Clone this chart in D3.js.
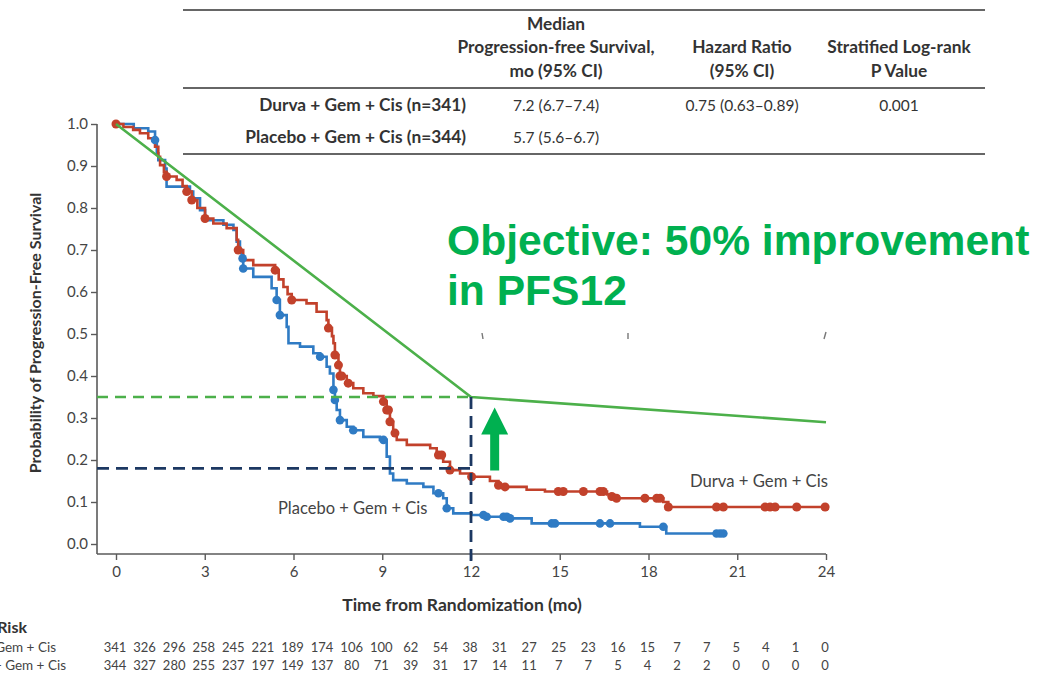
<!DOCTYPE html>
<html><head><meta charset="utf-8">
<script src="https://cdn.jsdelivr.net/npm/d3@7"></script>
<style>
html,body{margin:0;padding:0;background:#fff;}
svg{display:block;}
text{font-family:Lato,"Open Sans",sans-serif;}
</style></head>
<body>
<svg id="chart" width="1058" height="676"></svg>
<script>
// ---------------- data ----------------
const xTicks = [0, 3, 6, 9, 12, 15, 18, 21, 24];
const yTicks = [0.0, 0.1, 0.2, 0.3, 0.4, 0.5, 0.6, 0.7, 0.8, 0.9, 1.0];

// Durva + Gem + Cis (step changes)
const durvaT = [0,0.25,0.58,0.81,1.09,1.32,1.43,1.49,1.62,1.71,2.05,2.25,2.39,2.56,2.75,3.01,3.29,3.74,4.08,4.13,4.30,4.64,5.38,5.50,5.66,5.80,5.94,6.44,6.78,7.12,7.18,7.30,7.35,7.40,7.52,7.57,7.80,8.02,8.36,8.70,9.04,9.15,9.26,9.37,9.49,9.83,10.62,10.84,11.06,11.29,11.63,12.02,12.64,12.93,13.15,13.88,14.50,16.60,16.76,16.92,18.50,18.67,23.97];
const durvaS = [1.0,0.993,0.986,0.978,0.966,0.946,0.922,0.902,0.886,0.875,0.867,0.852,0.839,0.819,0.800,0.775,0.763,0.752,0.724,0.700,0.676,0.664,0.652,0.630,0.612,0.595,0.581,0.573,0.553,0.533,0.514,0.495,0.478,0.450,0.426,0.400,0.383,0.371,0.359,0.352,0.339,0.319,0.291,0.264,0.248,0.236,0.228,0.212,0.196,0.176,0.168,0.160,0.150,0.140,0.136,0.129,0.125,0.118,0.113,0.109,0.100,0.088,0.088];
const durvaCensor = [0,1.71,2.39,2.56,3.01,4.13,5.38,5.94,7.18,7.40,7.52,7.57,7.63,7.85,9.04,9.15,9.21,9.26,9.43,10.90,11.01,11.29,12.02,12.93,13.15,14.95,15.12,15.80,16.36,16.47,16.76,16.92,17.88,18.28,18.39,18.67,20.30,20.53,21.94,22.11,22.28,23.01,23.97];

// Placebo + Gem + Cis (step changes)
const placeboT = [0,0.6,1.09,1.32,1.38,1.43,1.66,1.71,2.50,2.61,2.84,3.01,3.63,3.97,4.08,4.19,4.25,4.30,4.64,5.26,5.43,5.54,5.77,5.83,6.22,6.67,6.90,7.12,7.23,7.35,7.40,7.46,7.57,7.80,8.02,8.36,8.92,9.15,9.26,9.37,9.83,10.39,10.73,11.06,11.18,11.40,12.02,12.53,13.32,14.05,17.71,18.60,20.53];
const placeboS = [1.0,0.990,0.982,0.962,0.930,0.914,0.894,0.851,0.839,0.823,0.795,0.771,0.760,0.748,0.720,0.700,0.680,0.656,0.636,0.609,0.581,0.545,0.517,0.478,0.470,0.454,0.446,0.422,0.406,0.367,0.343,0.319,0.295,0.279,0.271,0.255,0.248,0.208,0.168,0.152,0.144,0.136,0.121,0.109,0.085,0.073,0.069,0.065,0.061,0.049,0.041,0.025,0.025];
const placeboCensor = [1.32,4.28,4.30,5.43,5.54,6.90,7.35,7.40,7.57,8.02,9.04,10.90,11.18,12.42,12.53,13.10,13.21,13.32,14.73,14.84,16.36,16.70,18.50,20.30,20.42,20.53];

// target design line and reference levels
const targetT = [0, 12, 24];
const targetS = [1.0, 0.35, 0.29];
const landmarkT = 12;
const targetPFS12 = 0.35;
const controlPFS12 = 0.18;
const arrowT = 12.8;
const arrowFromS = 0.175;
const arrowToS = 0.325;

// number at risk
const riskTimes = [0,1,2,3,4,5,6,7,8,9,10,11,12,13,14,15,16,17,18,19,20,21,22,23,24];
const riskDurva = [341,326,296,258,245,221,189,174,106,100,62,54,38,31,27,25,23,16,15,7,7,5,4,1,0];
const riskPlacebo = [344,327,280,255,237,197,149,137,80,71,39,31,17,14,11,7,7,5,4,2,2,0,0,0,0];

// summary table
const tableHeaders = [["Median","Progression-free Survival,","mo (95% CI)"],["Hazard Ratio","(95% CI)"],["Stratified Log-rank","P Value"]];
const tableRowLabels = ["Durva + Gem + Cis (n=341)","Placebo + Gem + Cis (n=344)"];
const tableMedians = ["7.2 (6.7\u20137.4)","5.7 (5.6\u20136.7)"];
const tableHR = ["0.75 (0.63\u20130.89)",""];
const tableP = ["0.001",""];

// ---------------- drawing ----------------
const svg = d3.select("#chart");
const RED = "#c2412b", BLUE = "#2f7bc4", GREEN_LINE = "#4cb04a", GREEN = "#00b050", NAVY = "#1c3862";
const AX = "#5a5a5a", TXT = "#333";

const x = d3.scaleLinear().domain([0, 24]).range([116, 826]);
const y = d3.scaleLinear().domain([0, 1]).range([544, 124]);
const axisX0 = 97, axisY0 = 554;

// Axes
const gy = svg.append("g").attr("transform", `translate(${axisX0},0)`)
  .call(d3.axisLeft(y).tickValues(yTicks).tickFormat(d3.format(".1f")).tickSizeOuter(0).tickSize(6).tickPadding(3));
gy.select(".domain").attr("d", `M0,${y(1)}V${axisY0}`);
const gx = svg.append("g").attr("transform", `translate(0,${axisY0})`)
  .call(d3.axisBottom(x).tickValues(xTicks).tickSizeOuter(0).tickSize(6).tickPadding(6));
gx.select(".domain").attr("d", `M${axisX0},0H${x(24)}`);
[gx, gy].forEach(g => {
  g.selectAll(".domain").attr("stroke", AX).attr("stroke-width", 1.6);
  g.selectAll(".tick line").attr("stroke", AX).attr("stroke-width", 1.4);
  g.selectAll(".tick text").attr("fill", "#444").style("font-size", "15px").style("font-family", "Lato, sans-serif");
});

// axis titles
svg.append("text").attr("transform", `translate(41,${(y(1)+axisY0)/2 - 6}) rotate(-90)`)
  .attr("text-anchor", "middle").attr("fill", TXT).style("font-weight", 700).style("font-size", "16px")
  .text("Probability of Progression-Free Survival");
svg.append("text").attr("x", 462).attr("y", 611).attr("text-anchor", "middle").attr("fill", TXT)
  .style("font-weight", 700).style("font-size", "17.5px").text("Time from Randomization (mo)");

// KM curves
const step = d3.line().x(d => x(d[0])).y(d => y(d[1])).curve(d3.curveStepAfter);
const durva = durvaT.map((t, i) => [t, durvaS[i]]);
const placebo = placeboT.map((t, i) => [t, placeboS[i]]);
function survAt(T, S, t) { let s = S[0]; for (let i = 0; i < T.length; i++) { if (T[i] <= t) s = S[i]; } return s; }

svg.append("path").attr("d", step(placebo)).attr("fill", "none").attr("stroke", BLUE).attr("stroke-width", 2.6);
svg.append("path").attr("d", step(durva)).attr("fill", "none").attr("stroke", RED).attr("stroke-width", 2.6);
svg.append("g").selectAll("circle").data(placeboCensor).join("circle")
  .attr("cx", d => x(d)).attr("cy", d => y(survAt(placeboT, placeboS, d))).attr("r", 4.3).attr("fill", BLUE);
svg.append("g").selectAll("circle").data(durvaCensor).join("circle")
  .attr("cx", d => x(d)).attr("cy", d => y(survAt(durvaT, durvaS, d))).attr("r", 4.5).attr("fill", RED);

// target line
svg.append("path").attr("d", d3.line().x(d => x(d[0])).y(d => y(d[1]))(targetT.map((t, i) => [t, targetS[i]])))
  .attr("fill", "none").attr("stroke", GREEN_LINE).attr("stroke-width", 2.6);

// dashed reference lines
svg.append("line").attr("x1", axisX0).attr("x2", x(landmarkT)).attr("y1", y(targetPFS12)).attr("y2", y(targetPFS12))
  .attr("stroke", GREEN_LINE).attr("stroke-width", 2.4).attr("stroke-dasharray", "11,7");
svg.append("line").attr("x1", axisX0).attr("x2", x(landmarkT)).attr("y1", y(controlPFS12)).attr("y2", y(controlPFS12))
  .attr("stroke", NAVY).attr("stroke-width", 2.8).attr("stroke-dasharray", "12,7");
svg.append("line").attr("x1", x(landmarkT)).attr("x2", x(landmarkT)).attr("y1", y(targetPFS12)).attr("y2", 566)
  .attr("stroke", NAVY).attr("stroke-width", 2.8).attr("stroke-dasharray", "12,7");

// arrow
(function () {
  const ax = x(arrowT), yb = y(arrowFromS), yt = y(arrowToS);
  const sw = 4.5, hw = 13.5, hl = 27;
  const pts = [[ax - sw, yb], [ax - sw, yt + hl], [ax - hw, yt + hl], [ax, yt], [ax + hw, yt + hl], [ax + sw, yt + hl], [ax + sw, yb]];
  svg.append("path").attr("d", d3.line()(pts) + "Z").attr("fill", GREEN);
})();

// series labels
svg.append("text").attr("x", 828).attr("y", 487).attr("text-anchor", "end").attr("fill", "#444")
  .style("font-size", "16.7px").text("Durva + Gem + Cis");
svg.append("text").attr("x", 278).attr("y", 514).attr("text-anchor", "start").attr("fill", "#444")
  .style("font-size", "16.5px").text("Placebo + Gem + Cis");

// objective annotation
const obj = svg.append("text").attr("fill", GREEN).style("font-family", "'Liberation Sans', Arial, sans-serif")
  .style("font-weight", 700).style("font-size", "42.6px");
obj.append("tspan").attr("x", 447).attr("y", 255).text("Objective: 50% improvement");
obj.append("tspan").attr("x", 447).attr("y", 305).text("in PFS12");

// faint leftover marks
[[482, 333, 483, 339], [628, 333, 628, 339], [826, 332, 824, 339]].forEach(s =>
  svg.append("line").attr("x1", s[0]).attr("y1", s[1]).attr("x2", s[2]).attr("y2", s[3]).attr("stroke", "#777").attr("stroke-width", 1.4));

// ---------------- summary table ----------------
const rule = (yy) => svg.append("line").attr("x1", 183).attr("x2", 985).attr("y1", yy).attr("y2", yy).attr("stroke", "#666").attr("stroke-width", 2);
rule(10); rule(88); rule(154);
const colX = [556, 742, 899];
const hdrLines = [[24, 47, 71], [47, 71], [47, 71]];
tableHeaders.forEach((lines, c) => {
  lines.forEach((ln, k) => {
    svg.append("text").attr("x", colX[c]).attr("y", hdrLines[c][k] + 6).attr("text-anchor", "middle")
      .attr("fill", TXT).style("font-weight", 700).style("font-size", "17.3px").text(ln);
  });
});
const rowY = [105, 137];
tableRowLabels.forEach((lab, r) => {
  svg.append("text").attr("x", 466).attr("y", rowY[r] + 6).attr("text-anchor", "end").attr("fill", TXT)
    .style("font-weight", 700).style("font-size", "17.3px").text(lab);
  [tableMedians[r], tableHR[r], tableP[r]].forEach((v, c) => {
    if (!v) return;
    svg.append("text").attr("x", colX[c]).attr("y", rowY[r] + 5.5).attr("text-anchor", "middle").attr("fill", TXT)
      .style("font-size", "15.5px").text(v);
  });
});

// ---------------- number at risk ----------------
svg.append("text").attr("x", 27).attr("y", 633).attr("text-anchor", "end").attr("fill", TXT)
  .style("font-weight", 700).style("font-size", "16px").text("No. at Risk");
svg.append("text").attr("x", 56).attr("y", 652).attr("text-anchor", "end").attr("fill", "#444")
  .style("font-size", "13.5px").text("Durva + Gem + Cis");
svg.append("text").attr("x", 66).attr("y", 670).attr("text-anchor", "end").attr("fill", "#444")
  .style("font-size", "13.5px").text("Placebo + Gem + Cis");
[[riskDurva, 652], [riskPlacebo, 670]].forEach(([vals, yy]) => {
  svg.append("g").selectAll("text").data(vals).join("text")
    .attr("x", (d, i) => x(riskTimes[i]) - 1).attr("y", yy).attr("text-anchor", "middle").attr("fill", "#444")
    .style("font-size", "13px").style("font-family", "'Liberation Sans Narrow', Lato, sans-serif").text(d => d);
});
</script>
</body></html>
